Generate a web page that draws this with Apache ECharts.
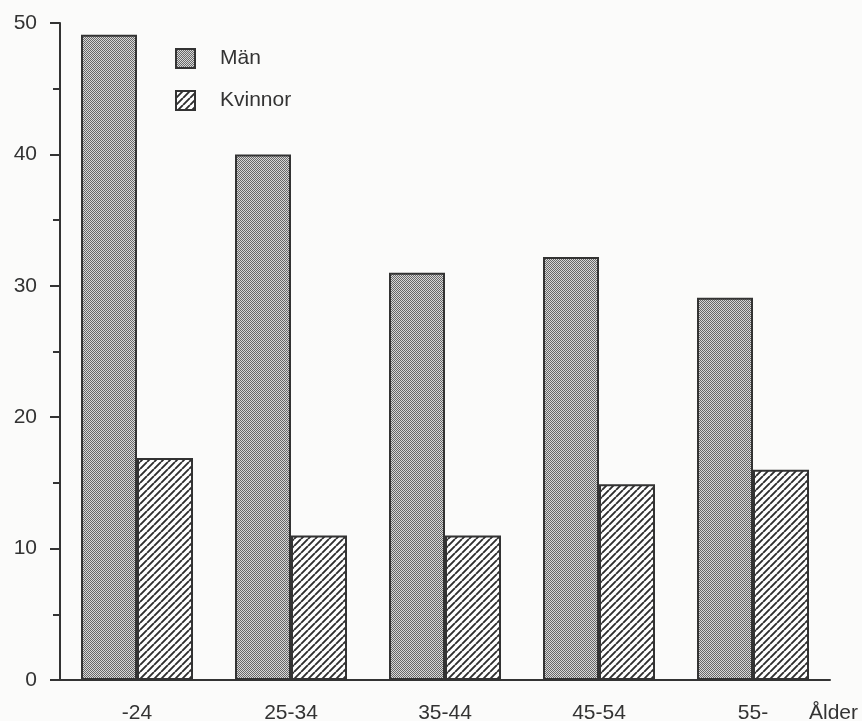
<!DOCTYPE html>
<html>
<head>
<meta charset="utf-8">
<script src="https://cdn.jsdelivr.net/npm/echarts@6/dist/echarts.min.js"></script>
<style>
  html, body { margin: 0; padding: 0; background: #fbfbfa; }
  #chart { width: 862px; height: 721px; }
</style>
</head>
<body>
<div id="chart"></div>
<script>
// ---- data ----
const categories = ['-24', '25-34', '35-44', '45-54', '55-'];
const manValues = [49.1, 40.0, 31.0, 32.2, 29.1];
const kvinnorValues = [16.9, 11.0, 11.0, 14.9, 16.0];
const seriesNames = ['Män', 'Kvinnor'];
const xAxisName = 'Ålder';

// ---- patterns ----
function stipple() {
  const c = document.createElement('canvas');
  c.width = 2; c.height = 2;
  const g = c.getContext('2d');
  g.fillStyle = '#d8d8d8'; g.fillRect(0, 0, 2, 2);
  g.fillStyle = '#686868'; g.fillRect(0, 0, 1, 1); g.fillRect(1, 1, 1, 1);
  return c;
}
function hatch() {
  const s = 7;
  const c = document.createElement('canvas');
  c.width = s; c.height = s;
  const g = c.getContext('2d');
  g.fillStyle = '#ffffff'; g.fillRect(0, 0, s, s);
  g.strokeStyle = '#2e2e2e'; g.lineWidth = 1.9;
  g.beginPath();
  for (let k = -1; k <= 1; k++) {
    g.moveTo(k * s, s); g.lineTo(k * s + s, 0);
  }
  g.stroke();
  return c;
}

const chart = echarts.init(document.getElementById('chart'));
const font = '"Liberation Sans", Arial, Helvetica, sans-serif';
const txt = '#333333';

chart.setOption({
  backgroundColor: '#fbfbfa',
  animation: false,
  grid: { left: 60, right: 32, top: 23, bottom: 41, containLabel: false, outerBoundsMode: 'none' },
  legend: {
    orient: 'vertical',
    left: 170, top: 43,
    itemWidth: 19, itemHeight: 19, itemGap: 21,
    icon: 'rect',
    textStyle: { fontFamily: font, fontSize: 21, color: txt, padding: [0, 0, 0, 20] },
    data: seriesNames
  },
  xAxis: {
    type: 'category',
    data: categories,
    boundaryGap: true,
    name: xAxisName,
    nameLocation: 'end',
    nameGap: -21,
    nameTextStyle: { fontFamily: font, fontSize: 21, color: txt, verticalAlign: 'top', padding: [23, 0, 0, 0] },
    axisLine: { lineStyle: { color: '#333333', width: 2 } },
    axisTick: { show: false },
    axisLabel: { fontFamily: font, fontSize: 21, color: txt, margin: 23 }
  },
  yAxis: {
    type: 'value',
    min: 0, max: 50, interval: 10,
    axisLine: { show: true, lineStyle: { color: '#333333', width: 2 } },
    axisTick: { show: true, length: 10, inside: false, lineStyle: { color: '#333333', width: 2 } },
    minorTick: { show: true, splitNumber: 2, length: 7, lineStyle: { color: '#333333', width: 2 } },
    splitLine: { show: false },
    axisLabel: { fontFamily: font, fontSize: 21, color: txt, margin: 23 }
  },
  series: [
    {
      name: seriesNames[0], type: 'bar', data: manValues,
      barWidth: 56, barGap: '0%',
      itemStyle: { color: { image: stipple(), repeat: 'repeat' }, borderColor: '#333', borderWidth: 2 }
    },
    {
      name: seriesNames[1], type: 'bar', data: kvinnorValues,
      barWidth: 56, barGap: '0%',
      itemStyle: { color: { image: hatch(), repeat: 'repeat' }, borderColor: '#333', borderWidth: 2 }
    }
  ]
});
</script>
</body>
</html>
